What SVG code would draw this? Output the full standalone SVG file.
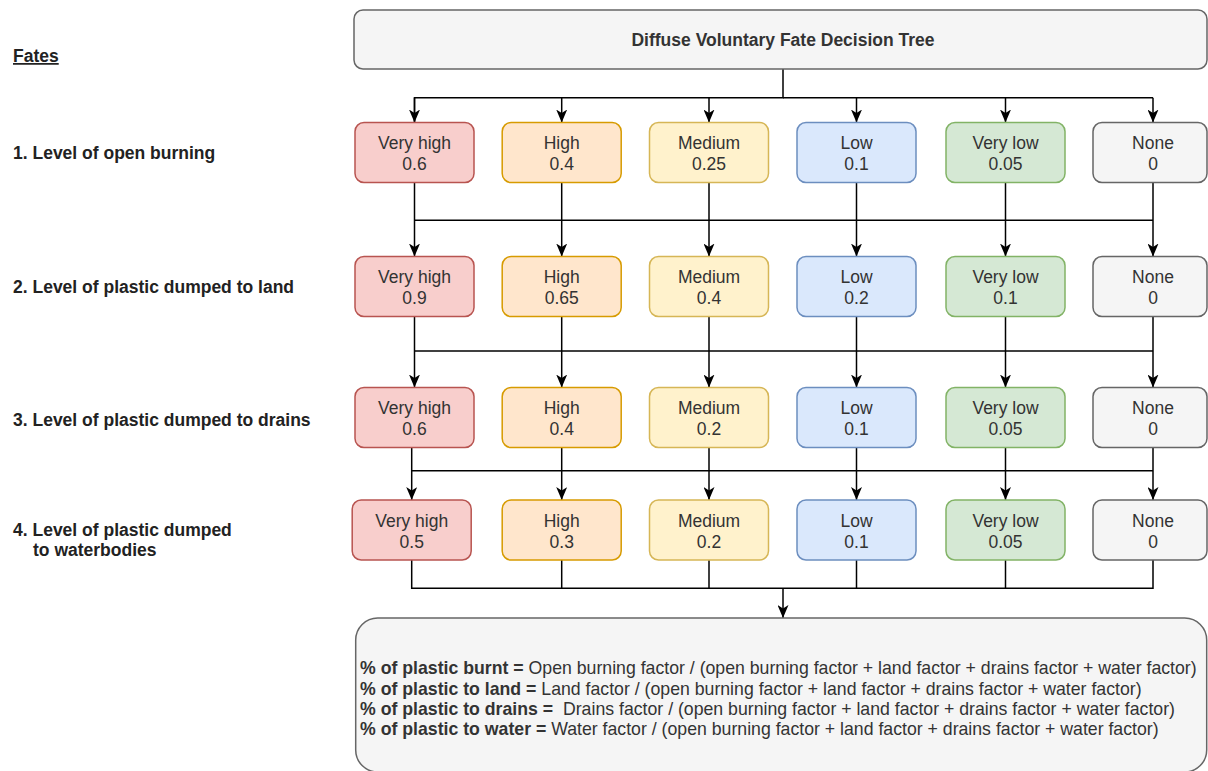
<svg xmlns="http://www.w3.org/2000/svg" width="1208" height="771" viewBox="0 0 1208 771">
<style>
text{font-family:"Liberation Sans",Arial,Helvetica,sans-serif;font-size:17.5px;fill:#333333}
.c{text-anchor:middle}
.b{font-weight:bold}
.lbl{font-weight:bold;fill:#222222}
.res{font-size:17.7px}
.box{stroke-width:1.5}
.red{fill:#f8cecc;stroke:#b85450}
.org{fill:#ffe6cc;stroke:#d79b00}
.yel{fill:#fff2cc;stroke:#d6b656}
.blu{fill:#dae8fc;stroke:#6c8ebf}
.grn{fill:#d5e8d4;stroke:#82b366}
.gry{fill:#f5f5f5;stroke:#666666}
.ln{fill:none;stroke:#000000;stroke-width:1.5}
.ar{marker-end:url(#arr)}
</style>
<defs>
<marker id="arr" viewBox="0 0 13 11" refX="13" refY="5.5" markerWidth="13" markerHeight="11" markerUnits="userSpaceOnUse" orient="auto">
<path d="M0,0 L13,5.5 L0,11 L3.5,5.5 Z" fill="#000000"/>
</marker>
</defs>
<rect width="1208" height="771" fill="#ffffff"/>

<g id="fates-labels">
<text class="lbl" x="13" y="62" text-decoration="underline">Fates</text>
<text class="lbl" x="13" y="158.5">1. Level of open burning</text>
<text class="lbl" x="13" y="292.5">2. Level of plastic dumped to land</text>
<text class="lbl" x="13" y="426">3. Level of plastic dumped to drains</text>
<text class="lbl" x="13" y="536">4. Level of plastic dumped</text>
<text class="lbl" x="33" y="556">to waterbodies</text>
</g>

<g id="connectors">
<!-- header to row 1 -->
<path class="ln" d="M783,69 V97.7 H414.5 V122.5"/>
<path class="ln ar" d="M414.5,97.7 V122.5"/>
<path class="ln ar" d="M561.7,97.7 V122.5"/>
<path class="ln ar" d="M709,97.7 V122.5"/>
<path class="ln ar" d="M856.5,97.7 V122.5"/>
<path class="ln ar" d="M1005.5,97.7 V122.5"/>
<path class="ln" d="M783,97.7 H1153"/>
<path class="ln ar" d="M1153,97.7 V122.5"/>
<!-- row 1 to row 2 -->
<path class="ln" d="M414.5,220.3 H1153"/>
<path class="ln ar" d="M414.5,182.5 V256.5"/>
<path class="ln ar" d="M561.7,182.5 V256.5"/>
<path class="ln ar" d="M709,182.5 V256.5"/>
<path class="ln ar" d="M856.5,182.5 V256.5"/>
<path class="ln ar" d="M1005.5,182.5 V256.5"/>
<path class="ln ar" d="M1153,182.5 V256.5"/>
<!-- row 2 to row 3 -->
<path class="ln" d="M414.5,351 H1153"/>
<path class="ln ar" d="M414.5,316.5 V387.5"/>
<path class="ln ar" d="M561.7,316.5 V387.5"/>
<path class="ln ar" d="M709,316.5 V387.5"/>
<path class="ln ar" d="M856.5,316.5 V387.5"/>
<path class="ln ar" d="M1005.5,316.5 V387.5"/>
<path class="ln ar" d="M1153,316.5 V387.5"/>
<!-- row 3 to row 4 -->
<path class="ln" d="M411.7,470.7 H1153"/>
<path class="ln ar" d="M411.7,447.5 V500"/>
<path class="ln ar" d="M561.7,447.5 V500"/>
<path class="ln ar" d="M709,447.5 V500"/>
<path class="ln ar" d="M856.5,447.5 V500"/>
<path class="ln ar" d="M1005.5,447.5 V500"/>
<path class="ln ar" d="M1153,447.5 V500"/>
<!-- row 4 to result -->
<path class="ln" d="M411.7,560 V588.3 H1153 V560"/>
<path class="ln" d="M561.7,560 V588.3"/>
<path class="ln" d="M709,560 V588.3"/>
<path class="ln" d="M856.5,560 V588.3"/>
<path class="ln" d="M1005.5,560 V588.3"/>
<path class="ln ar" d="M783,588.3 V618"/>
</g>

<g id="header">
<rect class="box gry" x="354" y="10" width="853" height="59" rx="9"/>
<text class="c b" x="783" y="45.5">Diffuse Voluntary Fate Decision Tree</text>
</g>

<!-- Row 1 -->
<g id="r1-veryhigh"><rect class="box red" x="355" y="122.5" width="119" height="60" rx="9"/><text class="c" x="414.5" y="149">Very high</text><text class="c" x="414.5" y="170">0.6</text></g>
<g id="r1-high"><rect class="box org" x="502.2" y="122.5" width="119" height="60" rx="9"/><text class="c" x="561.7" y="149">High</text><text class="c" x="561.7" y="170">0.4</text></g>
<g id="r1-medium"><rect class="box yel" x="649.5" y="122.5" width="119" height="60" rx="9"/><text class="c" x="709" y="149">Medium</text><text class="c" x="709" y="170">0.25</text></g>
<g id="r1-low"><rect class="box blu" x="797" y="122.5" width="119" height="60" rx="9"/><text class="c" x="856.5" y="149">Low</text><text class="c" x="856.5" y="170">0.1</text></g>
<g id="r1-verylow"><rect class="box grn" x="946" y="122.5" width="119" height="60" rx="9"/><text class="c" x="1005.5" y="149">Very low</text><text class="c" x="1005.5" y="170">0.05</text></g>
<g id="r1-none"><rect class="box gry" x="1093" y="122.5" width="114" height="60" rx="9"/><text class="c" x="1153" y="149">None</text><text class="c" x="1153" y="170">0</text></g>

<!-- Row 2 -->
<g id="r2-veryhigh"><rect class="box red" x="355" y="256.5" width="119" height="60" rx="9"/><text class="c" x="414.5" y="283">Very high</text><text class="c" x="414.5" y="304">0.9</text></g>
<g id="r2-high"><rect class="box org" x="502.2" y="256.5" width="119" height="60" rx="9"/><text class="c" x="561.7" y="283">High</text><text class="c" x="561.7" y="304">0.65</text></g>
<g id="r2-medium"><rect class="box yel" x="649.5" y="256.5" width="119" height="60" rx="9"/><text class="c" x="709" y="283">Medium</text><text class="c" x="709" y="304">0.4</text></g>
<g id="r2-low"><rect class="box blu" x="797" y="256.5" width="119" height="60" rx="9"/><text class="c" x="856.5" y="283">Low</text><text class="c" x="856.5" y="304">0.2</text></g>
<g id="r2-verylow"><rect class="box grn" x="946" y="256.5" width="119" height="60" rx="9"/><text class="c" x="1005.5" y="283">Very low</text><text class="c" x="1005.5" y="304">0.1</text></g>
<g id="r2-none"><rect class="box gry" x="1093" y="256.5" width="114" height="60" rx="9"/><text class="c" x="1153" y="283">None</text><text class="c" x="1153" y="304">0</text></g>

<!-- Row 3 -->
<g id="r3-veryhigh"><rect class="box red" x="355" y="387.5" width="119" height="60" rx="9"/><text class="c" x="414.5" y="414">Very high</text><text class="c" x="414.5" y="435">0.6</text></g>
<g id="r3-high"><rect class="box org" x="502.2" y="387.5" width="119" height="60" rx="9"/><text class="c" x="561.7" y="414">High</text><text class="c" x="561.7" y="435">0.4</text></g>
<g id="r3-medium"><rect class="box yel" x="649.5" y="387.5" width="119" height="60" rx="9"/><text class="c" x="709" y="414">Medium</text><text class="c" x="709" y="435">0.2</text></g>
<g id="r3-low"><rect class="box blu" x="797" y="387.5" width="119" height="60" rx="9"/><text class="c" x="856.5" y="414">Low</text><text class="c" x="856.5" y="435">0.1</text></g>
<g id="r3-verylow"><rect class="box grn" x="946" y="387.5" width="119" height="60" rx="9"/><text class="c" x="1005.5" y="414">Very low</text><text class="c" x="1005.5" y="435">0.05</text></g>
<g id="r3-none"><rect class="box gry" x="1093" y="387.5" width="114" height="60" rx="9"/><text class="c" x="1153" y="414">None</text><text class="c" x="1153" y="435">0</text></g>

<!-- Row 4 -->
<g id="r4-veryhigh"><rect class="box red" x="352.2" y="500" width="119" height="60" rx="9"/><text class="c" x="411.7" y="526.5">Very high</text><text class="c" x="411.7" y="547.5">0.5</text></g>
<g id="r4-high"><rect class="box org" x="502.2" y="500" width="119" height="60" rx="9"/><text class="c" x="561.7" y="526.5">High</text><text class="c" x="561.7" y="547.5">0.3</text></g>
<g id="r4-medium"><rect class="box yel" x="649.5" y="500" width="119" height="60" rx="9"/><text class="c" x="709" y="526.5">Medium</text><text class="c" x="709" y="547.5">0.2</text></g>
<g id="r4-low"><rect class="box blu" x="797" y="500" width="119" height="60" rx="9"/><text class="c" x="856.5" y="526.5">Low</text><text class="c" x="856.5" y="547.5">0.1</text></g>
<g id="r4-verylow"><rect class="box grn" x="946" y="500" width="119" height="60" rx="9"/><text class="c" x="1005.5" y="526.5">Very low</text><text class="c" x="1005.5" y="547.5">0.05</text></g>
<g id="r4-none"><rect class="box gry" x="1093" y="500" width="114" height="60" rx="9"/><text class="c" x="1153" y="526.5">None</text><text class="c" x="1153" y="547.5">0</text></g>

<g id="result">
<rect class="box gry" x="355.7" y="618" width="851" height="154" rx="22"/>
<text class="res" x="360" y="674" xml:space="preserve"><tspan class="b">% of plastic burnt = </tspan>Open burning factor / (open burning factor + land factor + drains factor + water factor)</text>
<text class="res" x="360" y="694.5" xml:space="preserve"><tspan class="b">% of plastic to land = </tspan>Land factor / (open burning factor + land factor + drains factor + water factor)</text>
<text class="res" x="360" y="715" xml:space="preserve"><tspan class="b">% of plastic to drains = </tspan> Drains factor / (open burning factor + land factor + drains factor + water factor)</text>
<text class="res" x="360" y="735.3" xml:space="preserve"><tspan class="b">% of plastic to water = </tspan>Water factor / (open burning factor + land factor + drains factor + water factor)</text>
</g>
</svg>
